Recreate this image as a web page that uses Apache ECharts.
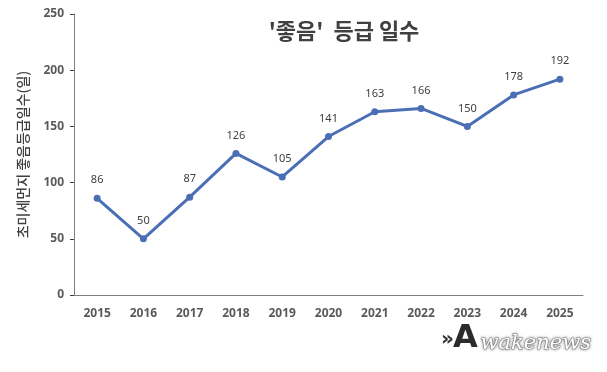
<!DOCTYPE html>
<html><head><meta charset="utf-8">
<script src="https://cdn.jsdelivr.net/npm/echarts@6/dist/echarts.min.js"></script>
<style>html,body{margin:0;padding:0;background:#fff}#c{width:607px;height:372px}</style>
</head><body><div id="c"></div>
<script>
const categories = ['2015','2016','2017','2018','2019','2020','2021','2022','2023','2024','2025'];
const goodDays = [86, 50, 87, 126, 105, 141, 163, 166, 150, 178, 192];
const yTicks = [0, 50, 100, 150, 200, 250];
const titleText = "'좋음'  등급 일수";
const yAxisName = '초미세먼지 좋음등급일수(일)';

const chart = echarts.init(document.getElementById('c'));
chart.setOption({
  backgroundColor: '#fff',
  animation: false,
  title: {
    text: titleText, left: 339, top: 15, textAlign: 'center',
    textStyle: {fontFamily: 'Noto Sans CJK KR', fontSize: 22, fontWeight: 'bold', color: '#404040'}
  },
  grid: {left: 74, right: 24, top: 14, bottom: 77},
  xAxis: {
    type: 'category', data: categories, boundaryGap: true,
    axisLine: {lineStyle: {color: '#808080', width: 1}},
    axisTick: {inside: true, length: 4, lineStyle: {color: '#404040'}},
    axisLabel: {margin: 13, fontFamily: 'Noto Sans', fontWeight: 'bold', fontSize: 12, color: '#595959'}
  },
  yAxis: {
    type: 'value', min: yTicks[0], max: yTicks[yTicks.length-1], interval: 50,
    name: yAxisName, nameLocation: 'middle', nameGap: 44, nameRotate: 90,
    nameTextStyle: {fontFamily: 'Noto Sans CJK KR', fontSize: 14, fontWeight: 500, color: '#404040'},
    axisLine: {show: true, lineStyle: {color: '#808080', width: 1}},
    axisTick: {show: true, inside: false, length: 4, lineStyle: {color: '#404040'}},
    splitLine: {show: false},
    axisLabel: {margin: 10, fontFamily: 'Noto Sans', fontWeight: 'bold', fontSize: 12, color: '#595959'}
  },
  series: [{
    type: 'line', data: goodDays, symbol: 'circle', symbolSize: 7,
    lineStyle: {color: '#4a6fb5', width: 3},
    itemStyle: {color: '#4a6fb5'},
    label: {show: true, position: 'top', distance: 9, fontFamily: 'Noto Sans', fontSize: 11, color: '#404040'}
  }],
  graphic: [
    {type: 'text', left: 441, top: 330, style: {text: '»', fontSize: 20, fontWeight: 'bold', fill: '#333', fontFamily: 'DejaVu Sans'}},
    {type: 'text', left: 453, top: 323, style: {text: 'A', fontSize: 32, fontWeight: 'bold', fill: '#2b2b2b', fontFamily: 'DejaVu Sans'}},
    {type: 'text', left: 480, top: 332, style: {text: 'wakenews', fontSize: 21, fontStyle: 'italic', fill: '#fff', fontFamily: 'DejaVu Serif', stroke: '#9a9a9a', lineWidth: 1.2, textShadowColor: 'rgba(0,0,0,0.4)', textShadowBlur: 3}}
  ]
});
</script></body></html>
